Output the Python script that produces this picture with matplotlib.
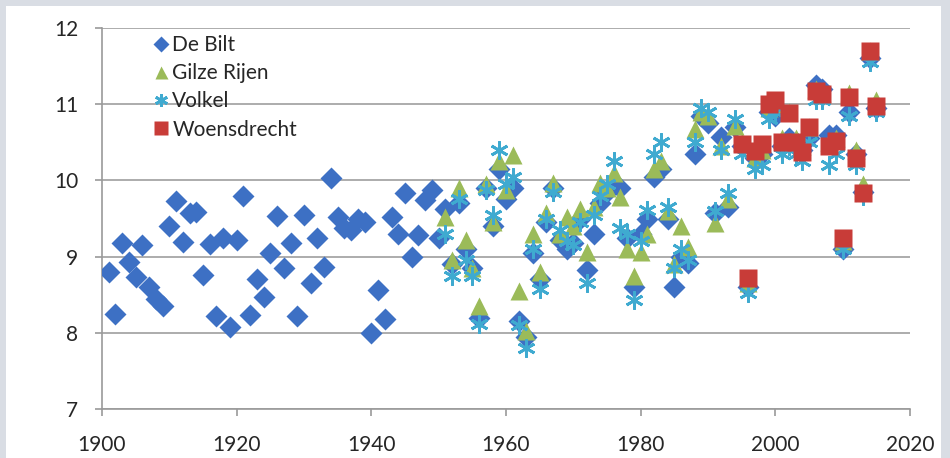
import matplotlib
matplotlib.use("Agg")
import matplotlib.pyplot as plt
from matplotlib.patches import Rectangle
import numpy as np

plt.rcParams['font.family'] = ['Lato', 'DejaVu Sans']

# ---------------- data ----------------
debilt_years = list(range(1901, 2016))
debilt = [8.80, 8.25, 9.18, 8.93, 8.73, 9.15, 8.60, 8.45, 8.35, 9.40,
          9.73, 9.19, 9.57, 9.58, 8.76, 9.17, 8.22, 9.25, 8.07, 9.22,
          9.80, 8.23, 8.70, 8.47, 9.05, 9.53, 8.85, 9.18, 8.22, 9.55,
          8.65, 9.24, 8.86, 10.03, 9.52, 9.38, 9.35, 9.50, 9.45, 8.00,
          8.56, 8.18, 9.52, 9.30, 9.84, 9.00, 9.28, 9.74, 9.87, 9.25,
          9.62, 8.90, 9.70, 9.10, 8.85, 8.20, 9.90, 9.40, 10.15, 9.75,
          9.90, 8.15, 7.95, 9.05, 8.70, 9.45, 9.90, 9.22, 9.10, 9.18,
          9.50, 8.82, 9.30, 9.70, 9.85, 9.95, 9.90, 9.25, 8.60, 9.30,
          9.50, 10.05, 10.15, 9.50, 8.60, 9.00, 8.92, 10.35, 10.85, 10.75,
          9.57, 10.57, 9.65, 10.70, 10.45, 8.60, 10.30, 10.35, 10.90, 10.85,
          10.45, 10.55, 10.50, 10.40, 10.55, 11.25, 11.20, 10.60, 10.60, 9.10,
          10.90, 10.35, 9.85, 11.60, 10.95]

station_years = list(range(1951, 2016))
gilze_rijen = [9.52, 8.95, 9.90, 9.22, 8.85, 8.35, 9.95, 9.45, 10.25, 9.87,
               10.33, 8.55, 8.03, 9.30, 8.80, 9.57, 9.97, 9.30, 9.52, 9.40,
               9.63, 9.06, 9.65, 9.96, 9.90, 10.10, 9.78, 9.10, 8.74, 9.06,
               9.30, 10.15, 10.25, 9.60, 8.90, 9.40, 9.13, 10.67, 10.90, 10.85,
               9.44, 10.45, 9.75, 10.72, 10.50, 8.65, 10.30, 10.40, 10.95, 11.00,
               10.55, 10.90, 10.55, 10.45, 10.70, 11.20, 11.15, 10.50, 10.55, 9.20,
               11.15, 10.40, 9.95, 11.70, 11.05]
volkel = [9.30, 8.75, 9.75, 8.95, 8.75, 8.12, 9.88, 9.55, 10.40, 9.95,
          10.05, 8.10, 7.80, 9.10, 8.58, 9.50, 9.85, 9.35, 9.20, 9.15,
          9.45, 8.65, 9.55, 9.80, 9.95, 10.25, 9.38, 9.30, 8.43, 9.20,
          9.61, 10.35, 10.50, 9.65, 8.85, 9.10, 8.95, 10.50, 10.95, 10.90,
          9.60, 10.40, 9.83, 10.80, 10.35, 8.52, 10.15, 10.20, 10.80, 10.90,
          10.35, 10.45, 10.35, 10.25, 10.50, 11.05, 11.05, 10.20, 10.35, 9.10,
          10.85, 10.20, 9.80, 11.55, 10.90]

woens_years = list(range(1995, 2016))
woensdrecht = [10.48, 8.72, 10.38, 10.48, 11.00, 11.05, 10.50, 10.88, 10.50, 10.37,
               10.70, 11.17, 11.13, 10.45, 10.52, 9.24, 11.10, 10.30, 9.83, 11.70,
               10.97]

x_ticks = [1900, 1920, 1940, 1960, 1980, 2000, 2020]
y_ticks = [7, 8, 9, 10, 11, 12]

# ---------------- figure ----------------
W, H = 950, 458
fig = plt.figure(figsize=(W / 100, H / 100), dpi=100)
fig.patch.set_facecolor('#d9dde4')
fig.patches.append(Rectangle((6 / W, 0), (941 - 6) / W, (H - 6) / H,
                             transform=fig.transFigure, facecolor='white',
                             edgecolor='none', zorder=-5))

ax = fig.add_axes([102 / W, 49 / H, (910 - 102) / W, (409 - 28) / H])
ax.set_zorder(2)
ax.set_facecolor('none')

blue = '#3d70c4'
green = '#9bbb59'
cyan = '#3faad0'
red = '#c83c38'

ax.plot(debilt_years, debilt, linestyle='none', marker='D', ms=11.5,
        color=blue, mec='none', label='De Bilt', zorder=3)
ax.plot(station_years, gilze_rijen, linestyle='none', marker='^', ms=13,
        color=green, mec='none', label='Gilze Rijen', zorder=4)
ax.plot(station_years, volkel, linestyle='none', marker=(6, 2, 0), ms=13,
        mew=2.0, color=cyan, mec=cyan, label='Volkel', zorder=5)
ax.plot(woens_years, woensdrecht, linestyle='none', marker='s', ms=13.5,
        color=red, mec='none', label='Woensdrecht', zorder=6)

ax.set_xlim(1900, 2020)
ax.set_ylim(7, 12)
ax.set_xticks(x_ticks)
ax.set_yticks(y_ticks)
ax.yaxis.grid(True, color='#a6a6a6', linewidth=1.3, zorder=0)
ax.set_axisbelow(True)
for s in ['top', 'right']:
    ax.spines[s].set_visible(False)
for s in ['left', 'bottom']:
    ax.spines[s].set_color('#9a9a9a')
    ax.spines[s].set_linewidth(1.2)
ax.tick_params(axis='both', direction='out', length=5, width=1.2,
               color='#9a9a9a', labelsize=15, labelcolor='#262626')
ax.tick_params(axis='x', pad=14)
ax.tick_params(axis='y', pad=12)

leg = ax.legend(loc='upper left', bbox_to_anchor=(0.052, 1.003), frameon=False,
                fontsize=15, handletextpad=0.16, labelspacing=0.39,
                handlelength=0.8, borderaxespad=0.0, markerscale=0.72)
for t in leg.get_texts():
    t.set_color('#262626')

fig.savefig('out.png', dpi=100)
